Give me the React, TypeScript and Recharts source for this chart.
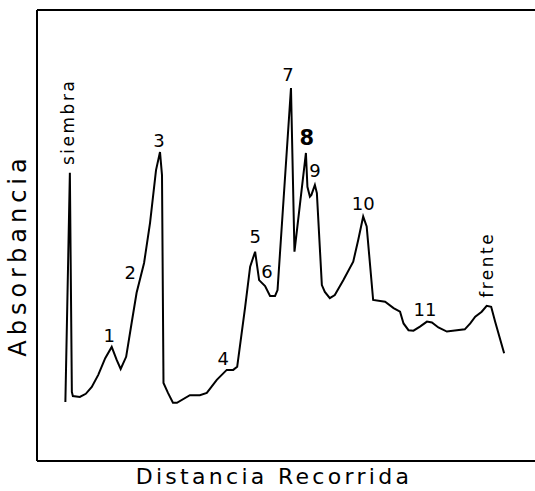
import { Line, LineChart, ReferenceDot, ReferenceLine, XAxis, YAxis } from "recharts";

// densitometer trace: distance travelled (0-100) vs absorbance (0-1)
const distance = [
  5.7, 6.6, 7.0, 7.2, 8.6, 9.8, 11.0, 12.3, 13.7, 15.0, 16.0, 16.8, 17.9, 19.0, 20.0,
  21.5, 22.7, 23.9, 24.7, 25.1, 25.4, 26.3, 27.3, 28.1, 30.7, 32.7, 34.1, 36.1, 38.1,
  39.4, 40.2, 41.8, 42.8, 43.8, 44.6, 45.8, 46.8, 47.8, 48.3, 51.0, 51.7, 54.0, 54.3,
  54.8, 55.1, 55.8, 56.2, 57.2, 57.8, 58.8, 59.8, 61.5, 63.5, 64.5, 65.5, 66.2, 67.5,
  69.9, 71.6, 72.9, 73.6, 74.6, 75.6, 76.9, 78.3, 79.3, 80.6, 82.3, 85.9, 87.0, 88.0,
  89.3, 90.3, 91.2, 92.0, 93.8,
];
const absorbance = [
  0.131, 0.639, 0.153, 0.144, 0.142, 0.149, 0.164, 0.191, 0.228, 0.253, 0.224, 0.204,
  0.231, 0.306, 0.373, 0.439, 0.528, 0.645, 0.685, 0.634, 0.173, 0.151, 0.129, 0.129,
  0.146, 0.146, 0.151, 0.18, 0.202, 0.202, 0.209, 0.342, 0.431, 0.464, 0.401, 0.388,
  0.366, 0.366, 0.379, 0.827, 0.464, 0.683, 0.608, 0.586, 0.59, 0.612, 0.594, 0.39,
  0.375, 0.361, 0.368, 0.401, 0.442, 0.49, 0.542, 0.52, 0.357, 0.353, 0.339, 0.331,
  0.305, 0.29, 0.289, 0.298, 0.309, 0.307, 0.296, 0.287, 0.292, 0.305, 0.32, 0.331,
  0.344, 0.342, 0.309, 0.239,
];

// band labels and where they sit
const bandNames = ["1", "2", "3", "4", "5", "6", "7", "8", "9", "10", "11"];
const bandX = [14.5, 18.7, 24.5, 37.4, 43.8, 46.2, 50.4, 54.2, 55.8, 65.5, 77.9];
const bandY = [0.279, 0.417, 0.71, 0.228, 0.497, 0.421, 0.858, 0.716, 0.645, 0.572, 0.335];

const markNames = ["siembra", "frente"];
const markX = [6.3, 90.4];
const markY = [0.752, 0.435];

const data = distance.map((d, i) => ({ d, a: absorbance[i] }));

const font = "'DejaVu Sans', sans-serif";
const axisStyle = { stroke: "#000", strokeWidth: 2 };

export default function App() {
  return (
    <div style={{ position: "absolute", left: 0, top: 0, width: 535, height: 491, background: "#fff" }}>
      <LineChart width={535} height={491} data={data} margin={{ top: 10, right: 0, bottom: 0, left: 0 }}>
        <XAxis
          dataKey="d"
          type="number"
          domain={[0, 100]}
          height={30}
          tick={false}
          tickLine={false}
          axisLine={axisStyle}
          label={{
            value: "Distancia Recorrida",
            content: (p: any) => {
              const vb = p.viewBox || { x: 37, y: 461 };
              return (
                <text x={vb.x + 237} y={vb.y + 23} textAnchor="middle" fontFamily={font} fontSize={22} letterSpacing={3.3} fill="#000">
                  Distancia Recorrida
                </text>
              );
            },
          }}
        />
        <YAxis
          type="number"
          domain={[0, 1]}
          width={37}
          tick={false}
          tickLine={false}
          axisLine={axisStyle}
          label={{
            value: "Absorbancia",
            content: (p: any) => {
              const vb = p.viewBox || { x: 0, y: 10 };
              const cx = vb.x + 18;
              const cy = vb.y + 245;
              return (
                <text x={cx} y={cy} transform={`rotate(-90 ${cx} ${cy})`} textAnchor="middle" dominantBaseline="central" fontFamily={font} fontSize={24} letterSpacing={5} fill="#000">
                  Absorbancia
                </text>
              );
            },
          }}
        />
        <ReferenceLine y={1} stroke="#000" strokeWidth={2} />
        <Line dataKey="a" type="linear" stroke="#000" strokeWidth={2} dot={false} isAnimationActive={false} />
        {bandNames.map((name, i) => (
          <ReferenceDot
            key={name}
            x={bandX[i]}
            y={bandY[i]}
            r={0}
            shape={(p: any) => (
              <text x={p.cx} y={p.cy} textAnchor="middle" dominantBaseline="central" fontFamily={font} fontSize={name === "8" ? 21 : 18} fontWeight={name === "8" ? 600 : "normal"} fill="#000">
                {name}
              </text>
            )}
          />
        ))}
        {markNames.map((name, i) => (
          <ReferenceDot
            key={name}
            x={markX[i]}
            y={markY[i]}
            r={0}
            shape={(p: any) => (
              <text x={p.cx} y={p.cy} transform={`rotate(-90 ${p.cx} ${p.cy})`} textAnchor="middle" dominantBaseline="central" fontFamily={font} fontSize={17} letterSpacing={2.5} fill="#000">
                {name}
              </text>
            )}
          />
        ))}
      </LineChart>
    </div>
  );
}
